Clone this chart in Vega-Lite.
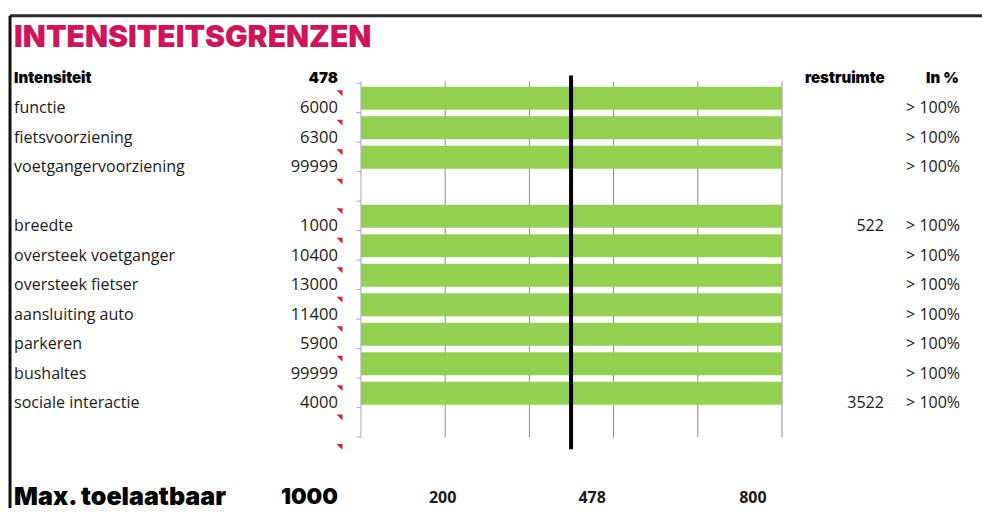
{
  "$schema": "https://vega.github.io/schema/vega-lite/v6.json",
  "width": 982,
  "height": 513,
  "autosize": {"type": "none"},
  "padding": 0,
  "background": "#ffffff",
  "config": {"view": {"stroke": null}, "axis": {"disable": true}},
  "datasets": {
    "rows": [
      {"row": 1, "label": "functie", "intensity": "6000", "bar": 1000, "rest": "", "pct": "> 100%"},
      {"row": 2, "label": "fietsvoorziening", "intensity": "6300", "bar": 1000, "rest": "", "pct": "> 100%"},
      {"row": 3, "label": "voetgangervoorziening", "intensity": "99999", "bar": 1000, "rest": "", "pct": "> 100%"},
      {"row": 4, "label": "", "intensity": "", "bar": null, "rest": "", "pct": ""},
      {"row": 5, "label": "breedte", "intensity": "1000", "bar": 1000, "rest": "522", "pct": "> 100%"},
      {"row": 6, "label": "oversteek voetganger", "intensity": "10400", "bar": 1000, "rest": "", "pct": "> 100%"},
      {"row": 7, "label": "oversteek fietser", "intensity": "13000", "bar": 1000, "rest": "", "pct": "> 100%"},
      {"row": 8, "label": "aansluiting auto", "intensity": "11400", "bar": 1000, "rest": "", "pct": "> 100%"},
      {"row": 9, "label": "parkeren", "intensity": "5900", "bar": 1000, "rest": "", "pct": "> 100%"},
      {"row": 10, "label": "bushaltes", "intensity": "99999", "bar": 1000, "rest": "", "pct": "> 100%"},
      {"row": 11, "label": "sociale interactie", "intensity": "4000", "bar": 1000, "rest": "3522", "pct": "> 100%"},
      {"row": 12, "label": "", "intensity": "", "bar": null, "rest": "", "pct": ""}
    ],
    "markers": [
      {"row": 1}, {"row": 2}, {"row": 3}, {"row": 4}, {"row": 5}, {"row": 6}, {"row": 7},
      {"row": 8}, {"row": 9}, {"row": 10}, {"row": 11}, {"row": 12}, {"row": 13}
    ],
    "grid": [
      {"v": 0, "kind": "axis"}, {"v": 200, "kind": "grid"}, {"v": 400, "kind": "grid"},
      {"v": 600, "kind": "grid"}, {"v": 800, "kind": "grid"}, {"v": 1000, "kind": "grid"}
    ],
    "header": [
      {"label": "Intensiteit", "intensity": "478", "rest": "restruimte", "pct": "In %"}
    ],
    "limit": [{"value": 499}],
    "footer": [{"label": "Max. toelaatbaar", "max": "1000"}],
    "scalelabels": [{"a": "200", "b": "478", "c": "800"}],
    "title": [{"text": "INTENSITEITSGRENZEN"}]
  },
  "layer": [
    {
      "data": {"name": "grid"},
      "mark": {"type": "rule", "strokeWidth": 1},
      "encoding": {
        "x": {"field": "v", "type": "quantitative", "scale": {"domain": [-857.5, 1475.1], "nice": false, "zero": false}},
        "y": {"datum": 0.433, "type": "quantitative", "scale": {"domain": [-2.16, 14.895], "nice": false, "zero": false, "reverse": true}},
        "y2": {"datum": 12.5},
        "color": {"condition": {"test": "datum.kind === 'axis'", "value": "#a4a4cc"}, "value": "#8c8c8c"}
      }
    },
    {
      "data": {"name": "markers"},
      "mark": {"type": "rule", "strokeWidth": 1, "color": "#a4a4cc", "yOffset": -15.04},
      "encoding": {
        "x": {"datum": -11},
        "x2": {"datum": 0},
        "y": {"field": "row", "type": "quantitative"}
      }
    },
    {
      "data": {"name": "rows"},
      "transform": [{"filter": "isValid(datum.bar)"}],
      "mark": {"type": "bar", "height": 23, "color": "#92d050"},
      "encoding": {
        "x": {"field": "bar", "type": "quantitative"},
        "x2": {"datum": 0},
        "y": {"field": "row", "type": "quantitative"}
      }
    },
    {
      "data": {"name": "limit"},
      "mark": {"type": "rule", "strokeWidth": 4, "color": "#000000"},
      "encoding": {
        "x": {"field": "value", "type": "quantitative"},
        "y": {"datum": 0.234},
        "y2": {"datum": 12.9}
      }
    },
    {
      "data": {"values": [{}]},
      "mark": {"type": "rule", "strokeWidth": 3, "color": "#2a2a2a"},
      "encoding": {
        "x": {"datum": -833.7},
        "x2": {"datum": 1475.1},
        "y": {"datum": -1.794}
      }
    },
    {
      "data": {"values": [{}]},
      "mark": {"type": "rule", "strokeWidth": 3, "color": "#111111"},
      "encoding": {
        "x": {"datum": -833.7},
        "y": {"datum": -1.794},
        "y2": {"datum": 14.895}
      }
    },
    {
      "data": {"name": "rows"},
      "mark": {"type": "text", "align": "left", "baseline": "middle", "dy": 10, "font": "Open Sans", "fontSize": 16, "color": "#1a1a1a"},
      "encoding": {
        "x": {"datum": -824},
        "y": {"field": "row", "type": "quantitative"},
        "text": {"field": "label"}
      }
    },
    {
      "data": {"name": "rows"},
      "mark": {"type": "text", "align": "right", "baseline": "middle", "dy": 10, "font": "Open Sans", "fontSize": 16.5, "color": "#1a1a1a"},
      "encoding": {
        "x": {"datum": -55},
        "y": {"field": "row", "type": "quantitative"},
        "text": {"field": "intensity"}
      }
    },
    {
      "data": {"name": "rows"},
      "mark": {"type": "text", "align": "right", "baseline": "middle", "dy": 10, "font": "Open Sans", "fontSize": 16, "color": "#1a1a1a"},
      "encoding": {
        "x": {"datum": 1242},
        "y": {"field": "row", "type": "quantitative"},
        "text": {"field": "rest"}
      }
    },
    {
      "data": {"name": "rows"},
      "mark": {"type": "text", "align": "right", "baseline": "middle", "dy": 10, "font": "Open Sans", "fontSize": 16, "color": "#1a1a1a"},
      "encoding": {
        "x": {"datum": 1423},
        "y": {"field": "row", "type": "quantitative"},
        "text": {"field": "pct"}
      }
    },
    {
      "data": {"name": "markers"},
      "mark": {"type": "point", "shape": "M -1 -1 L 1 -1 L 1 1 Z", "filled": true, "size": 36, "color": "#e3202a", "opacity": 1, "yOffset": -5},
      "encoding": {
        "x": {"datum": -51},
        "y": {"field": "row", "type": "quantitative"}
      }
    },
    {
      "data": {"name": "header"},
      "mark": {"type": "text", "align": "left", "baseline": "middle", "dy": 9, "font": "Inter", "fontWeight": 900, "fontSize": 15, "letterSpacing": 1, "color": "#000000"},
      "encoding": {"x": {"datum": -824}, "y": {"datum": 0}, "text": {"field": "label"}}
    },
    {
      "data": {"name": "header"},
      "mark": {"type": "text", "align": "right", "baseline": "middle", "dy": 9, "font": "Inter", "fontWeight": 900, "fontSize": 15, "color": "#000000"},
      "encoding": {"x": {"datum": -55}, "y": {"datum": 0}, "text": {"field": "intensity"}}
    },
    {
      "data": {"name": "header"},
      "mark": {"type": "text", "align": "right", "baseline": "middle", "dy": 9, "font": "Inter", "fontWeight": 900, "fontSize": 15, "letterSpacing": 1, "color": "#000000"},
      "encoding": {"x": {"datum": 1244}, "y": {"datum": 0}, "text": {"field": "rest"}}
    },
    {
      "data": {"name": "header"},
      "mark": {"type": "text", "align": "right", "baseline": "middle", "dy": 9, "font": "Inter", "fontWeight": 900, "fontSize": 15, "letterSpacing": 1, "color": "#000000"},
      "encoding": {"x": {"datum": 1420}, "y": {"datum": 0}, "text": {"field": "pct"}}
    },
    {
      "data": {"name": "title"},
      "mark": {"type": "text", "align": "left", "baseline": "middle", "dy": -1, "font": "Inter", "fontWeight": 900, "fontSize": 30, "color": "#d1145a"},
      "encoding": {"x": {"datum": -824}, "y": {"datum": -1}, "text": {"field": "text"}}
    },
    {
      "data": {"name": "footer"},
      "mark": {"type": "text", "align": "left", "baseline": "middle", "dy": 15, "font": "Inter", "fontWeight": 900, "fontSize": 25, "color": "#000000"},
      "encoding": {"x": {"datum": -824}, "y": {"datum": 14}, "text": {"field": "label"}}
    },
    {
      "data": {"name": "footer"},
      "mark": {"type": "text", "align": "right", "baseline": "middle", "dy": 15, "font": "Inter", "fontWeight": 900, "fontSize": 22, "color": "#000000"},
      "encoding": {"x": {"datum": -55}, "y": {"datum": 14}, "text": {"field": "max"}}
    },
    {
      "data": {"name": "scalelabels"},
      "mark": {"type": "text", "align": "center", "baseline": "middle", "dy": 16, "font": "Open Sans", "fontWeight": 700, "fontSize": 16, "color": "#1a1a1a"},
      "encoding": {"x": {"datum": 194}, "y": {"datum": 14}, "text": {"field": "a"}}
    },
    {
      "data": {"name": "scalelabels"},
      "mark": {"type": "text", "align": "center", "baseline": "middle", "dy": 16, "font": "Open Sans", "fontWeight": 700, "fontSize": 16, "color": "#1a1a1a"},
      "encoding": {"x": {"datum": 549}, "y": {"datum": 14}, "text": {"field": "b"}}
    },
    {
      "data": {"name": "scalelabels"},
      "mark": {"type": "text", "align": "center", "baseline": "middle", "dy": 16, "font": "Open Sans", "fontWeight": 700, "fontSize": 16, "color": "#1a1a1a"},
      "encoding": {"x": {"datum": 931}, "y": {"datum": 14}, "text": {"field": "c"}}
    }
  ]
}
